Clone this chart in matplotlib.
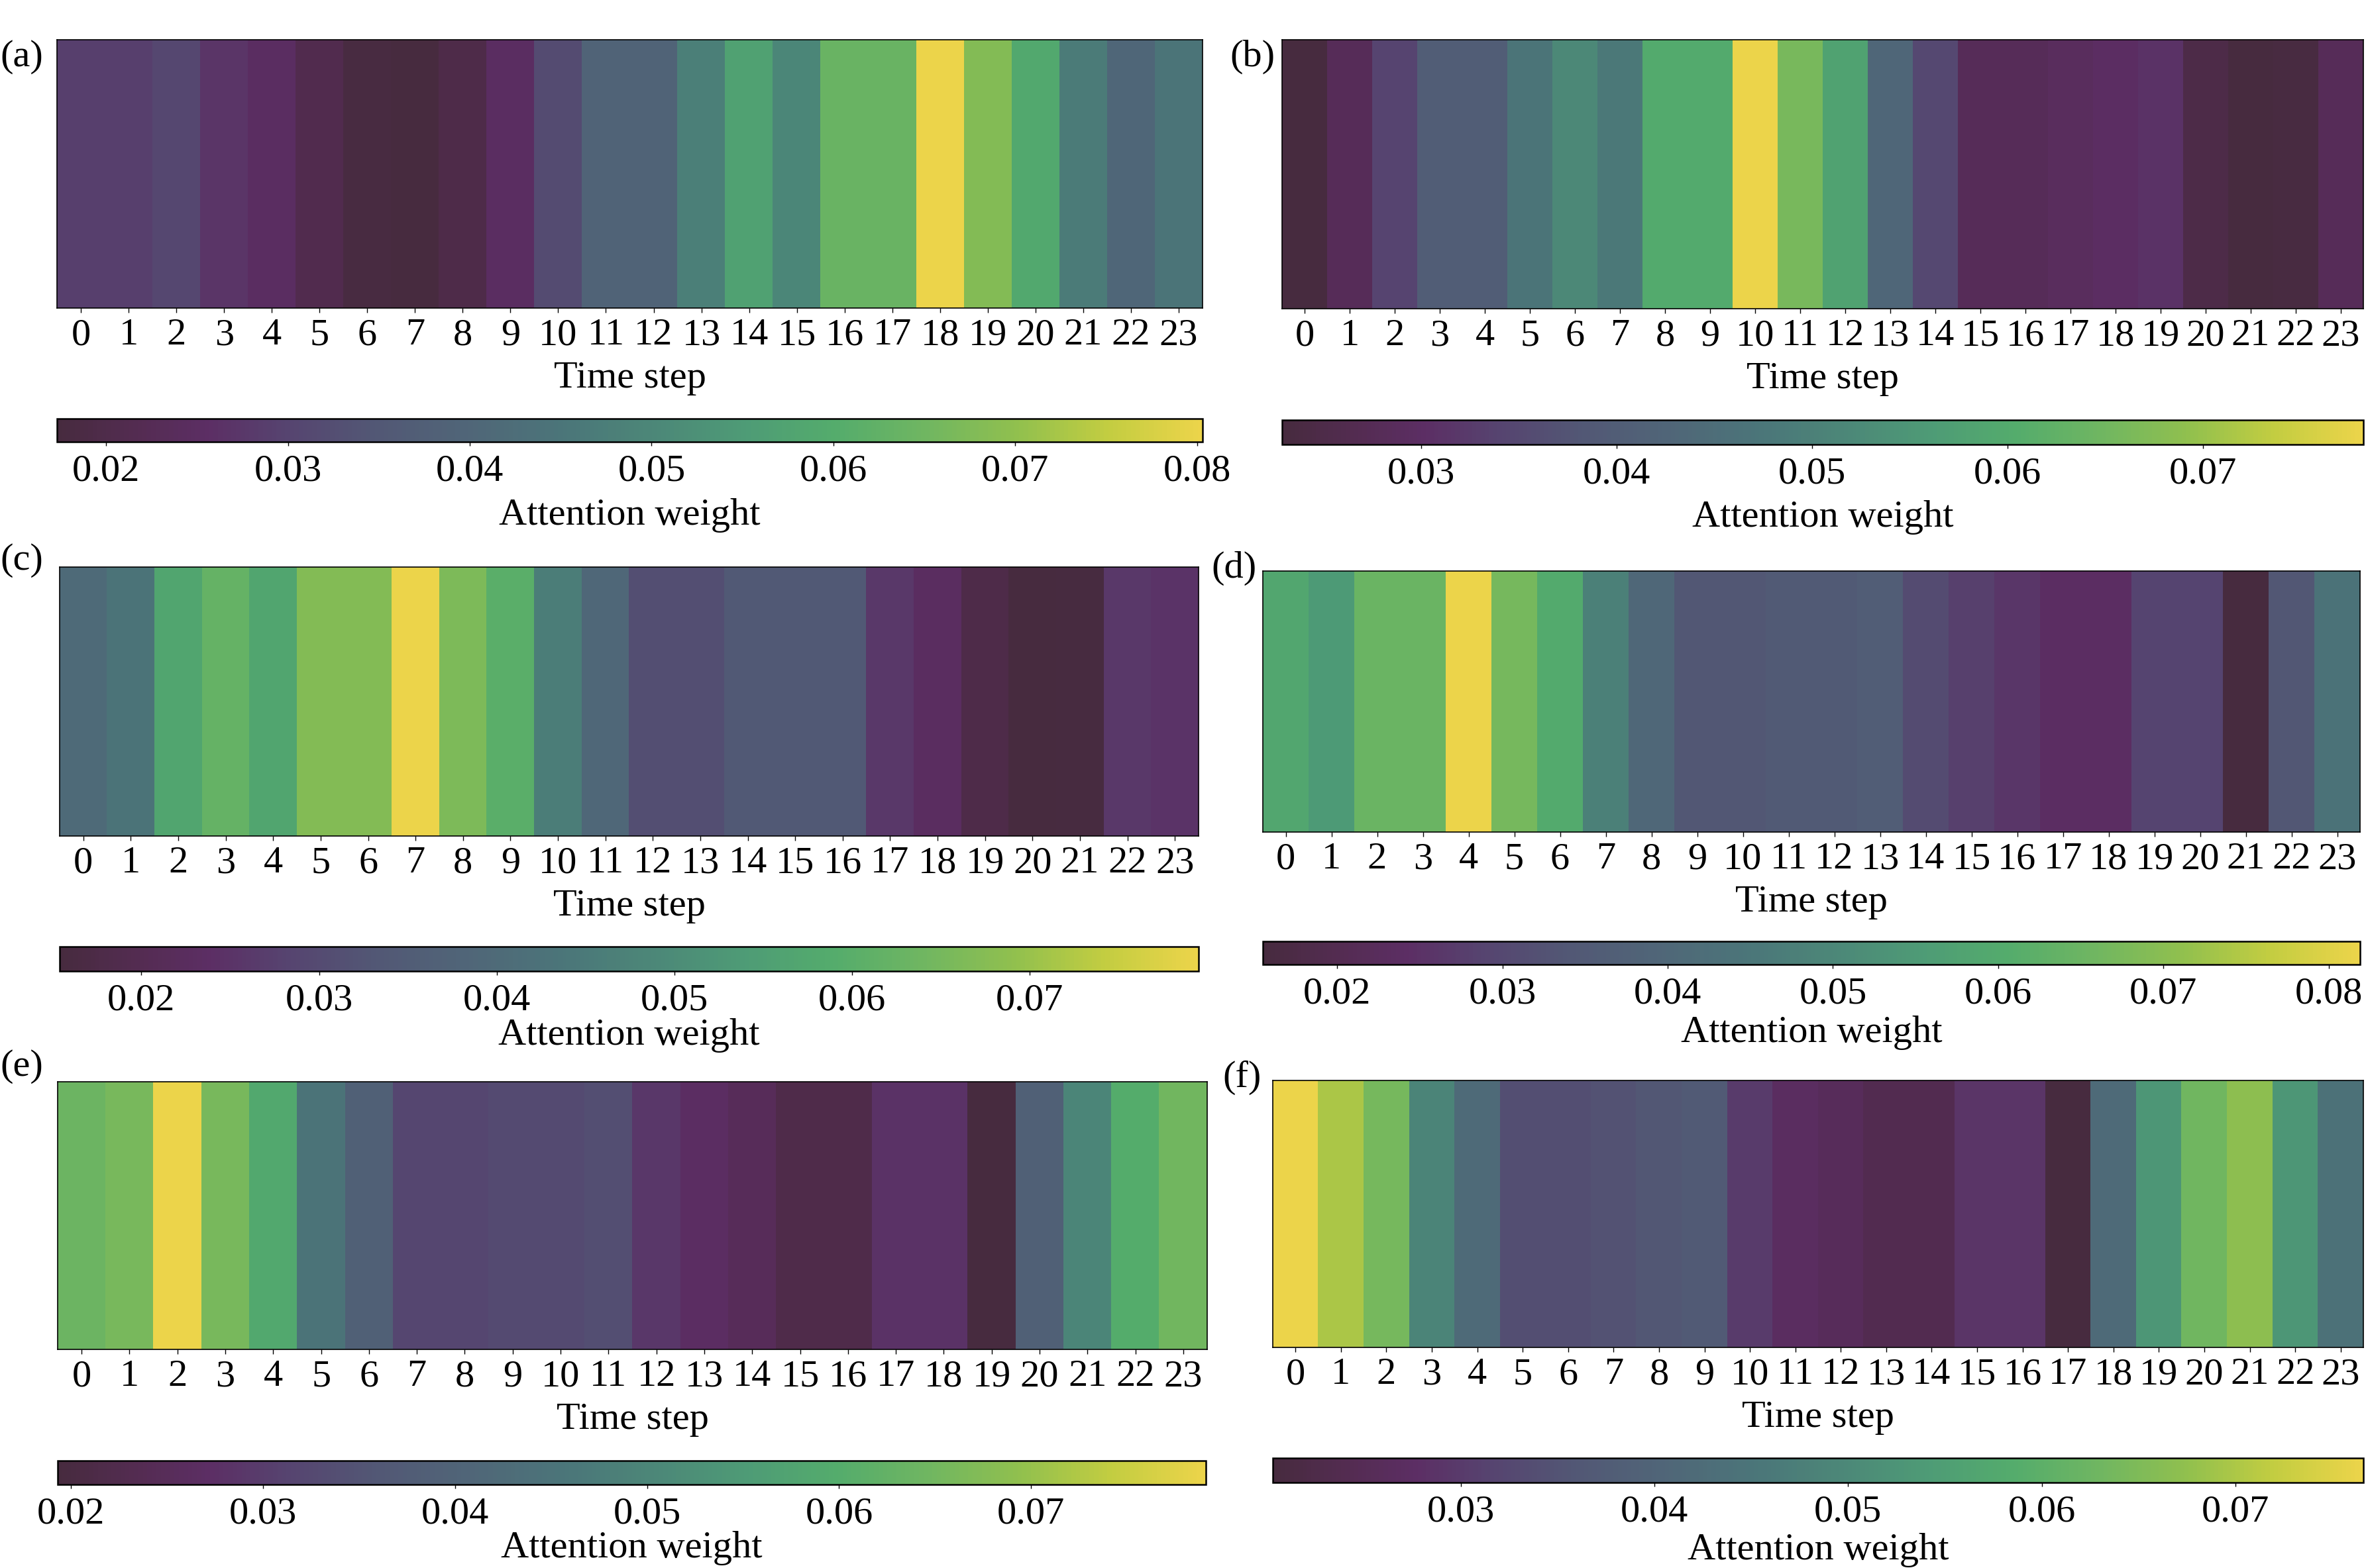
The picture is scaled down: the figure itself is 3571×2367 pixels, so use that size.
import numpy as np
import matplotlib
matplotlib.use('Agg')
from matplotlib import pyplot as plt
from matplotlib.colors import LinearSegmentedColormap
from matplotlib.ticker import MultipleLocator, FormatStrFormatter

# Attention weights per time step (0..23)
time_steps = list(range(24))

weights_a = [0.029, 0.029, 0.031, 0.027, 0.025, 0.021, 0.018, 0.0173, 0.020, 0.025,
             0.032, 0.039, 0.039, 0.048, 0.057, 0.050, 0.064, 0.064, 0.0803, 0.068,
             0.059, 0.047, 0.040, 0.045]
weights_b = [0.0229, 0.028, 0.034, 0.040, 0.040, 0.047, 0.052, 0.048, 0.060, 0.060,
             0.0782, 0.066, 0.058, 0.043, 0.035, 0.028, 0.028, 0.029, 0.030, 0.031,
             0.025, 0.023, 0.0235, 0.028]
weights_c = [0.040, 0.043, 0.057, 0.062, 0.057, 0.067, 0.067, 0.0795, 0.066, 0.060,
             0.046, 0.039, 0.031, 0.031, 0.034, 0.034, 0.034, 0.026, 0.023, 0.018,
             0.0154, 0.0158, 0.026, 0.025]
weights_d = [0.059, 0.055, 0.065, 0.065, 0.0819, 0.067, 0.060, 0.048, 0.040, 0.034,
             0.034, 0.035, 0.035, 0.036, 0.031, 0.028, 0.026, 0.024, 0.024, 0.029,
             0.029, 0.0155, 0.034, 0.044]
weights_e = [0.064, 0.066, 0.0791, 0.066, 0.059, 0.045, 0.039, 0.032, 0.032, 0.033,
             0.033, 0.034, 0.029, 0.027, 0.025, 0.022, 0.022, 0.028, 0.028, 0.0193,
             0.039, 0.050, 0.060, 0.065]
weights_f = [0.0766, 0.070, 0.064, 0.049, 0.042, 0.034, 0.034, 0.035, 0.036, 0.037,
             0.030, 0.027, 0.026, 0.024, 0.024, 0.029, 0.029, 0.0203, 0.042, 0.053,
             0.063, 0.067, 0.053, 0.044]

panel_labels = ['(a)', '(b)', '(c)', '(d)', '(e)', '(f)']
all_weights = [weights_a, weights_b, weights_c, weights_d, weights_e, weights_f]

# muted viridis-like colormap as it appears in the figure
cmap_colors = [
    (0.00, (71, 43, 63)), (0.07, (84, 44, 82)), (0.13, (92, 46, 100)),
    (0.20, (86, 68, 112)), (0.28, (82, 88, 117)), (0.36, (80, 102, 120)),
    (0.44, (75, 117, 121)), (0.52, (76, 135, 120)), (0.60, (78, 155, 118)),
    (0.68, (84, 172, 108)), (0.76, (112, 182, 97)), (0.84, (145, 192, 78)),
    (0.92, (195, 205, 65)), (1.00, (236, 212, 74)),
]
cmap = LinearSegmentedColormap.from_list(
    'muted_viridis', [(p, tuple(v / 255 for v in c)) for p, c in cmap_colors])

plt.rcParams['font.family'] = ['Liberation Serif', 'DejaVu Serif']
FS = 42
plt.rcParams['font.size'] = FS

W, H = 3571, 2367
fig = plt.figure(figsize=(W / 100, H / 100), dpi=100)


def px_axes(left, top, right, bottom):
    # axes from pixel box (top-left origin)
    return fig.add_axes([left / W, 1 - bottom / H, (right - left) / W, (bottom - top) / H])


# pixel boxes: heatmap, colorbar, label position, labelpad of colorbar label
layout = [
    ((86, 60, 1815, 465), (86, 632, 1815, 667), (0, 60), 11),
    ((1935, 60, 3567, 466), (1935, 634, 3567, 671), (1856, 60), 10),
    ((90, 856, 1809, 1262), (90, 1429, 1809, 1466), (0, 820), 1),
    ((1906, 862, 3562, 1256), (1906, 1421, 3562, 1456), (1828, 832), 5),
    ((87, 1633, 1822, 2037), (87, 2205, 1820, 2241), (0, 1584), 0),
    ((1921, 1631, 3567, 2034), (1921, 2201, 3567, 2238), (1845, 1601), 4),
]

for label, weights, (hm_box, cb_box, lab_pos, cb_pad) in zip(panel_labels, all_weights, layout):
    ax = px_axes(*hm_box)
    data = np.array(weights)[np.newaxis, :]
    im = ax.imshow(data, aspect='auto', cmap=cmap, interpolation='nearest')
    ax.set_xticks(time_steps)
    ax.set_xticklabels([str(t) for t in time_steps])
    ax.set_yticks([])
    ax.tick_params(axis='x', length=5, width=1, pad=6, labelsize=FS)
    ax.set_xlabel('Time step', fontsize=FS, labelpad=9)
    for sp in ax.spines.values():
        sp.set_linewidth(1.2)

    cax = px_axes(*cb_box)
    cb = fig.colorbar(im, cax=cax, orientation='horizontal')
    cb.locator = MultipleLocator(0.01)
    cb.formatter = FormatStrFormatter('%.2f')
    cb.update_ticks()
    cb.outline.set_linewidth(1.8)
    cax.tick_params(length=4, width=1, pad=9, labelsize=FS)
    cb.set_label('Attention weight', fontsize=FS, labelpad=cb_pad)

    fig.text(lab_pos[0] / W, 1 - lab_pos[1] / H, label, fontsize=FS, ha='left', va='top')

plt.savefig('out.png', dpi=100)
